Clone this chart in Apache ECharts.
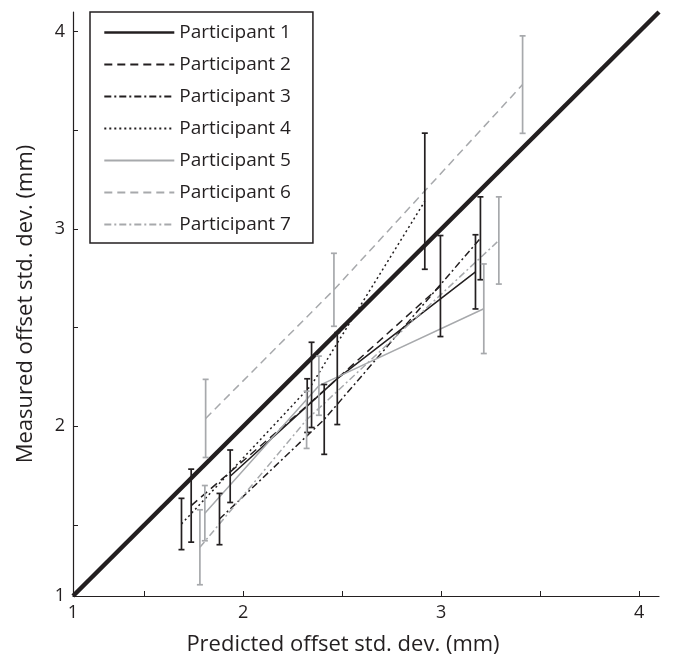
<!DOCTYPE html>
<html>
<head>
<meta charset="utf-8">
<script src="https://cdn.jsdelivr.net/npm/echarts@6/dist/echarts.min.js"></script>
<style>
html,body{margin:0;padding:0;background:#fff;}
#chart{width:674px;height:661px;}
</style>
</head>
<body>
<div id="chart"></div>
<script>
// ---- data ----
const participants = ['Participant 1','Participant 2','Participant 3','Participant 4','Participant 5','Participant 6','Participant 7'];

const p1Pred = [1.934, 2.475, 3.173];
const p1Meas = [1.747, 2.242, 2.783];
const p1Err  = [0.133, 0.233, 0.188];

const p2Pred = [1.737, 2.323, 2.996];
const p2Meas = [1.598, 2.105, 2.711];
const p2Err  = [0.185, 0.136, 0.256];

const p3Pred = [1.880, 2.409, 3.198];
const p3Meas = [1.530, 2.035, 2.953];
const p3Err  = [0.130, 0.177, 0.210];

const p4Pred = [1.688, 2.345, 2.917];
const p4Meas = [1.505, 2.210, 3.141];
const p4Err  = [0.130, 0.216, 0.345];

const p5Pred = [1.806, 2.382, 3.215];
const p5Meas = [1.560, 2.206, 2.596];
const p5Err  = [0.140, 0.150, 0.227];

const p6Pred = [1.810, 2.458, 3.411];
const p6Meas = [2.040, 2.692, 3.732];
const p6Err  = [0.198, 0.185, 0.247];

const p7Pred = [1.781, 2.320, 3.291];
const p7Meas = [1.387, 2.033, 2.942];
const p7Err  = [0.190, 0.145, 0.221];

// identity (predicted = measured) reference line
const identityLine = [[1.14, 1.14], [4.1, 4.1]];

const axisMin = 1.14, axisMax = 4.1;
const tickValues = [1.5, 2, 2.5, 3, 3.5, 4];
const labelValues = [1.14, 2, 3, 4];

// ---- styles ----
const BLACK = '#231f20', GRAY = '#a7a9ac';
const styles = [
  {color: BLACK, type: 'solid'},
  {color: BLACK, type: [8, 5]},
  {color: BLACK, type: [7, 3, 2, 3]},
  {color: BLACK, type: [2, 3]},
  {color: GRAY, type: 'solid'},
  {color: GRAY, type: [8, 5]},
  {color: GRAY, type: [7, 3, 2, 3]}
];
const preds = [p1Pred, p2Pred, p3Pred, p4Pred, p5Pred, p6Pred, p7Pred];
const meas  = [p1Meas, p2Meas, p3Meas, p4Meas, p5Meas, p6Meas, p7Meas];
const errs  = [p1Err, p2Err, p3Err, p4Err, p5Err, p6Err, p7Err];

const FONT = 'Open Sans';

function makeErrRender(color) {
  return function (params, api) {
    const x = api.value(0), y = api.value(1), e = api.value(2);
    const top = api.coord([x, y + e]);
    const bot = api.coord([x, y - e]);
    const cap = 3;
    const st = {stroke: color, lineWidth: 1.7};
    return {
      type: 'group',
      children: [
        {type: 'line', shape: {x1: top[0], y1: top[1], x2: bot[0], y2: bot[1]}, style: st},
        {type: 'line', shape: {x1: top[0] - cap, y1: top[1], x2: top[0] + cap, y2: top[1]}, style: st},
        {type: 'line', shape: {x1: bot[0] - cap, y1: bot[1], x2: bot[0] + cap, y2: bot[1]}, style: st}
      ]
    };
  };
}

const series = [];
participants.forEach((name, i) => {
  const s = styles[i];
  series.push({
    name: name,
    type: 'line',
    data: preds[i].map((x, k) => [x, meas[i][k]]),
    symbol: 'none',
    lineStyle: {color: s.color, width: 1.5, type: s.type},
    itemStyle: {color: s.color},
    z: 3,
    animation: false
  });
  series.push({
    name: name + ' err',
    type: 'custom',
    renderItem: makeErrRender(s.color),
    data: preds[i].map((x, k) => [x, meas[i][k], errs[i][k]]),
    encode: {x: 0, y: 1},
    z: 4,
    animation: false
  });
});
series.push({
  name: 'identity',
  type: 'line',
  data: identityLine,
  symbol: 'none',
  lineStyle: {color: BLACK, width: 4.5},
  z: 2,
  animation: false
});

function axisCommon(name) {
  return {
    type: 'value',
    min: axisMin,
    max: axisMax,
    name: name,
    nameLocation: 'middle',
    nameTextStyle: {fontFamily: FONT, fontSize: 22, color: BLACK},
    axisLine: {show: true, onZero: false, lineStyle: {color: BLACK, width: 1.2}},
    axisTick: {show: true, inside: true, length: 5, customValues: tickValues, lineStyle: {color: BLACK, width: 1}},
    axisLabel: {
      customValues: labelValues,
      fontFamily: FONT, fontSize: 18, color: BLACK, margin: 8,
      formatter: v => String(Math.round(v))
    },
    splitLine: {show: false}
  };
}

const xAxis = axisCommon('Predicted offset std. dev. (mm)');
xAxis.nameGap = 38;
xAxis.nameTextStyle.padding = [0, 46, 0, 0];
const yAxis = axisCommon('Measured offset std. dev. (mm)');
yAxis.nameGap = 36;

const chart = echarts.init(document.getElementById('chart'), null, {renderer: 'canvas'});
chart.setOption({
  animation: false,
  backgroundColor: '#fff',
  grid: {left: 73, right: 15, top: 12, bottom: 63, containLabel: false},
  xAxis: xAxis,
  yAxis: yAxis,
  legend: {
    data: participants.map((n, i) => ({name: n, lineStyle: {width: i === 0 ? 2.6 : 2}})),
    orient: 'vertical',
    left: 90,
    top: 12,
    itemWidth: 70,
    itemHeight: 14,
    itemGap: 13,
    padding: [11, 22, 9, 13],
    borderColor: BLACK,
    borderWidth: 1.5,
    backgroundColor: '#fff',
    itemStyle: {color: 'rgba(0,0,0,0)', borderWidth: 0, opacity: 0},
    textStyle: {fontFamily: FONT, fontSize: 19, color: BLACK},
    selectedMode: false
  },
  series: series
});
</script>
</body>
</html>
